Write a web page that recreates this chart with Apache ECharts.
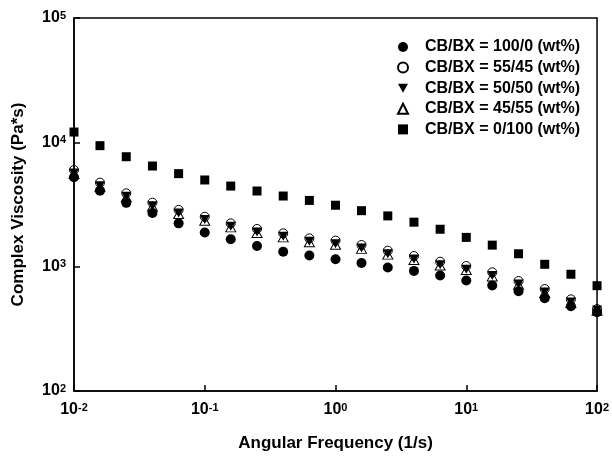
<!DOCTYPE html>
<html>
<head>
<meta charset="utf-8">
<script src="https://cdn.jsdelivr.net/npm/echarts@6/dist/echarts.min.js"></script>
<style>
  html, body { margin: 0; padding: 0; background: #fff; }
  #chart { width: 612px; height: 457px; }
</style>
</head>
<body>
<div id="chart"></div>
<script>
// Angular frequency (1/s), five points per decade
const frequency = [0.01, 0.0158, 0.0251, 0.0398, 0.0631, 0.1, 0.158, 0.251, 0.398, 0.631,
                   1, 1.58, 2.51, 3.98, 6.31, 10, 15.8, 25.1, 39.8, 63.1, 100];

// Complex viscosity (Pa*s) for each CB/BX blend ratio
const viscosity100_0 = [5235, 4080, 3260, 2700, 2230, 1880, 1660, 1466, 1320, 1230,
                        1146, 1070, 985, 925, 850, 775, 707, 635, 557, 480, 430];
const viscosity55_45 = [5990, 4740, 3890, 3270, 2860, 2520, 2230, 2010, 1855, 1690,
                        1620, 1494, 1344, 1218, 1096, 1012, 901, 767, 661, 546, 456];
const viscosity50_50 = [5670, 4480, 3680, 3090, 2700, 2390, 2110, 1900, 1755, 1600,
                        1530, 1410, 1270, 1150, 1035, 955, 850, 725, 625, 520, 448];
const viscosity45_55 = [5560, 4400, 3610, 3040, 2650, 2340, 2070, 1865, 1720, 1570,
                        1500, 1390, 1250, 1130, 1020, 940, 835, 715, 615, 510, 442];
const viscosity0_100 = [12100, 9400, 7660, 6450, 5600, 4980, 4450, 4060, 3700, 3410,
                        3120, 2820, 2560, 2280, 2000, 1720, 1490, 1270, 1045, 869, 703];

const seriesNames = [
  'CB/BX = 100/0 (wt%)',
  'CB/BX = 55/45 (wt%)',
  'CB/BX = 50/50 (wt%)',
  'CB/BX = 45/55 (wt%)',
  'CB/BX = 0/100 (wt%)'
];

// Decade exponents shown on each axis
const xTickExponents = [-2, -1, 0, 1, 2];
const yTickExponents = [2, 3, 4, 5];

const FONT = '"Liberation Sans", Arial, Helvetica, sans-serif';
const INK = '#000';

function pairs(ys) {
  return frequency.map((x, i) => [x, ys[i]]);
}

function powerLabel(exps) {
  return function (value) {
    const e = Math.round(Math.log10(value));
    if (exps.indexOf(e) < 0) return '';
    return '{b|10}{s|' + e + '}';
  };
}

const richPow = {
  b: { fontSize: 16, fontWeight: 'bold', fontFamily: FONT, color: INK },
  s: { fontSize: 11, fontWeight: 'bold', fontFamily: FONT, color: INK, verticalAlign: 'top', padding: [0, 0, 3, 0] }
};

const hollow = 'rgba(255,255,255,0)';
// Downward-pointing triangle drawn as a path so the legend icon matches too
const DOWN_TRIANGLE = 'path://M0,0 L10,0 L5,9 Z';

const markerStyles = [
  { symbol: 'circle', symbolSize: 10, itemStyle: { color: INK, opacity: 1 } },
  { symbol: 'circle', symbolSize: 9, itemStyle: { color: hollow, borderColor: INK, borderWidth: 1, opacity: 1 } },
  { symbol: DOWN_TRIANGLE, symbolSize: [10, 9], itemStyle: { color: INK, opacity: 1 } },
  { symbol: 'triangle', symbolSize: [10, 9], itemStyle: { color: hollow, borderColor: INK, borderWidth: 1, opacity: 1 } },
  { symbol: 'rect', symbolSize: 9, itemStyle: { color: INK, opacity: 1 } }
];

const seriesValues = [viscosity100_0, viscosity55_45, viscosity50_50, viscosity45_55, viscosity0_100];

const chart = echarts.init(document.getElementById('chart'), null, { renderer: 'canvas' });

chart.setOption({
  animation: false,
  backgroundColor: '#fff',
  grid: {
    left: 74, right: 14, top: 18, bottom: 66,
    show: true, borderColor: INK, borderWidth: 1.5, backgroundColor: 'transparent'
  },
  legend: {
    orient: 'vertical',
    left: 392,
    top: 32,
    itemWidth: 10,
    itemHeight: 10,
    itemGap: 0.6,
    textStyle: {
      fontSize: 16, fontWeight: 'bold', fontFamily: FONT, color: INK,
      lineHeight: 20, padding: [0, 0, 0, 12]
    },
    data: seriesNames
  },
  xAxis: {
    type: 'log',
    logBase: 10,
    min: 0.01,
    max: 100,
    name: 'Angular Frequency (1/s)',
    nameLocation: 'middle',
    nameGap: 44,
    nameTextStyle: { fontSize: 17, fontWeight: 'bold', fontFamily: FONT, color: INK },
    axisLine: { lineStyle: { color: INK, width: 1.5 } },
    axisTick: { inside: true, length: 6, lineStyle: { color: INK, width: 1.5 } },
    axisLabel: { margin: 11, formatter: powerLabel(xTickExponents), rich: richPow },
    splitLine: { show: false },
    minorTick: { show: false }
  },
  yAxis: {
    type: 'log',
    logBase: 10,
    min: 100,
    max: 100000,
    name: 'Complex Viscosity (Pa*s)',
    nameLocation: 'middle',
    nameGap: 47,
    nameTextStyle: { fontSize: 17, fontWeight: 'bold', fontFamily: FONT, color: INK },
    axisLine: { lineStyle: { color: INK, width: 1.5 } },
    axisTick: { inside: true, length: 6, lineStyle: { color: INK, width: 1.5 } },
    axisLabel: { margin: 8, formatter: powerLabel(yTickExponents), rich: richPow },
    splitLine: { show: false },
    minorTick: { show: false }
  },
  series: seriesValues.map((vals, i) => ({
    name: seriesNames[i],
    type: 'scatter',
    clip: false,
    symbol: markerStyles[i].symbol,
    symbolSize: markerStyles[i].symbolSize,
    itemStyle: markerStyles[i].itemStyle,
    emphasis: { disabled: true },
    data: pairs(vals)
  }))
});
</script>
</body>
</html>
